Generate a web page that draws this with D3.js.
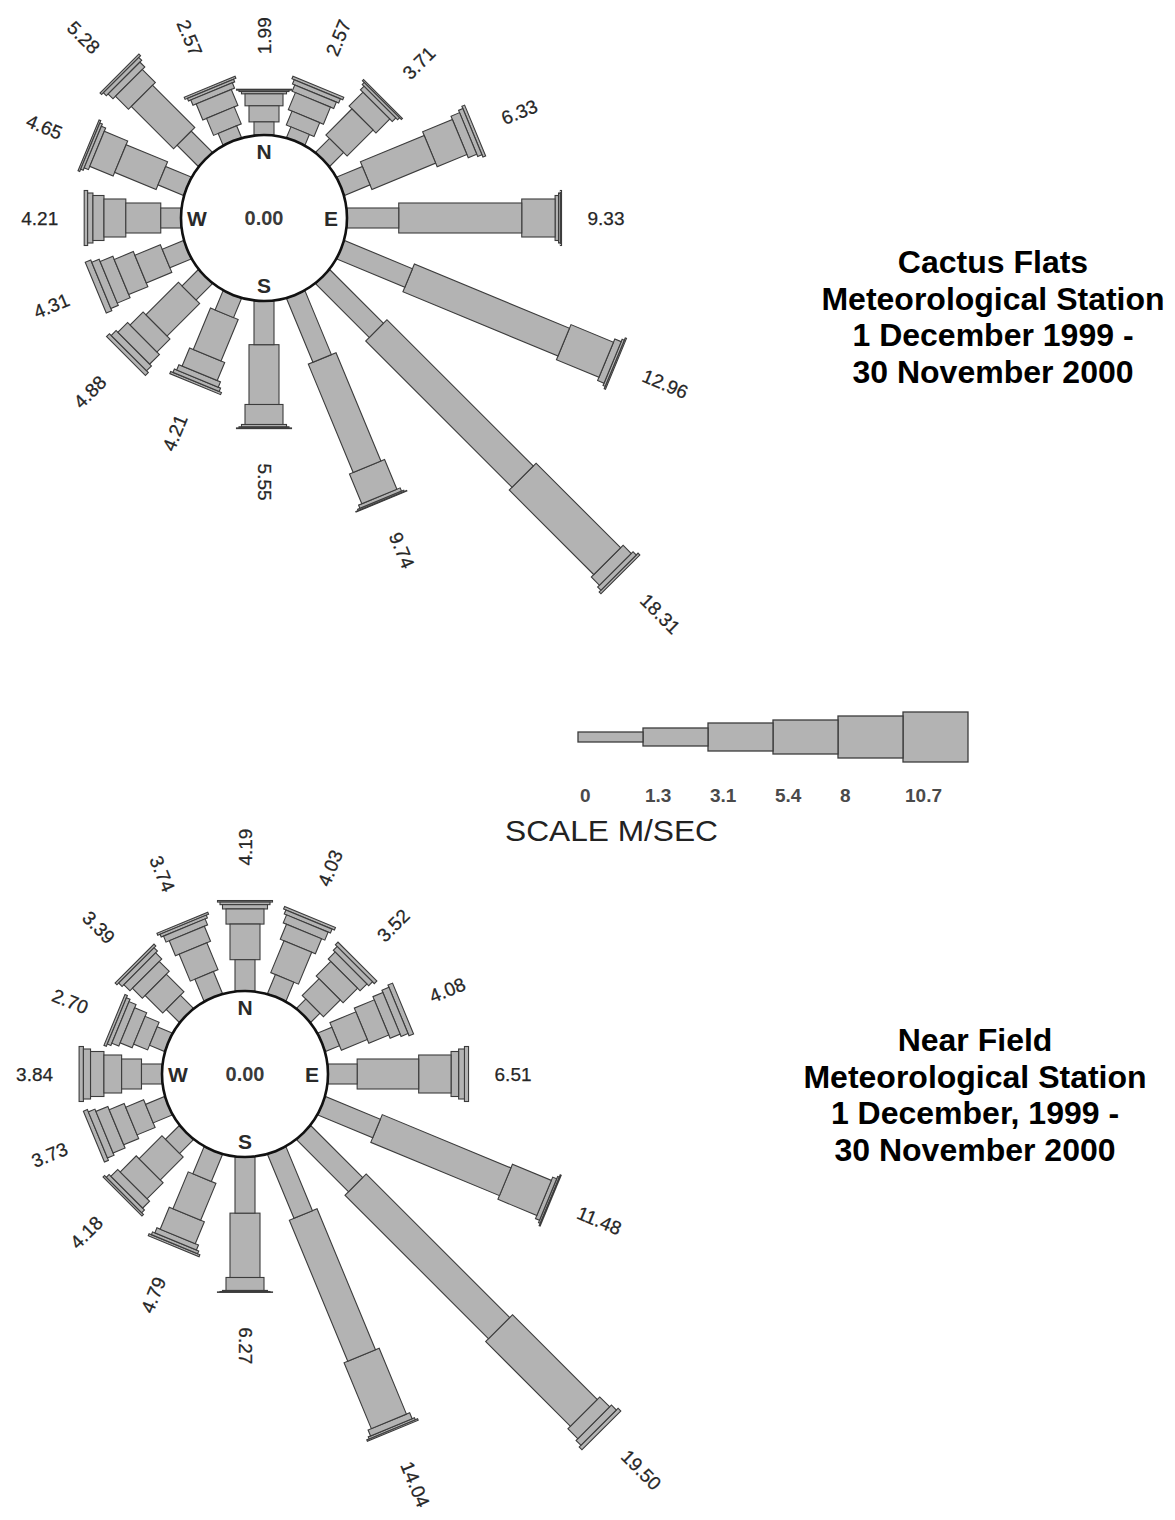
<!DOCTYPE html>
<html>
<head>
<meta charset="utf-8">
<script src="https://cdn.jsdelivr.net/npm/d3@7"></script>
<style>
  html, body { margin: 0; padding: 0; background: #ffffff; }
  svg { display: block; }
</style>
</head>
<body>
<svg id="chart" width="1175" height="1520"></svg>
<script>
// Sixteen compass points, clockwise from north
const directions = ["N","NNE","NE","ENE","E","ESE","SE","SSE","S","SSW","SW","WSW","W","WNW","NW","NNW"];
// Lower bound of each wind speed class, m/s
const speedBreaks = ["0","1.3","3.1","5.4","8","10.7"];

// Cactus Flats: percent of hours per direction, one array per speed class
const cactusC1 = [0.57,0.50,0.85,1.20,2.25,3.20,3.30,3.00,1.90,0.90,1.00,1.00,0.88,1.20,1.30,0.55];
const cactusC2 = [0.70,0.65,1.60,3.00,5.35,7.30,9.00,5.10,2.60,1.95,2.00,1.20,1.52,1.95,2.60,0.80];
const cactusC3 = [0.52,0.80,0.85,1.40,1.45,2.00,5.20,1.40,0.87,0.85,0.80,0.90,0.95,1.10,0.80,0.75];
const cactusC4 = [0.10,0.30,0.22,0.40,0.15,0.30,0.50,0.15,0.10,0.25,0.60,0.60,0.48,0.20,0.30,0.25];
const cactusC5 = [0.06,0.20,0.12,0.20,0.08,0.10,0.20,0.06,0.05,0.16,0.30,0.35,0.23,0.12,0.18,0.12];
const cactusC6 = [0.04,0.12,0.07,0.13,0.05,0.06,0.11,0.03,0.03,0.10,0.18,0.26,0.15,0.08,0.10,0.10];
const cactusCalm = 0.00;

// Near Field: percent of hours per direction, one array per speed class
const nearC1 = [1.45,0.95,0.60,0.70,1.35,2.75,3.40,3.20,2.60,1.35,0.90,0.95,0.95,0.75,0.85,1.10];
const nearC2 = [1.65,1.60,1.10,1.30,2.85,6.45,9.40,7.07,2.98,1.85,1.50,0.90,0.92,0.70,1.15,1.35];
const nearC3 = [0.70,0.75,0.95,1.00,1.50,1.95,5.55,3.30,0.60,1.10,1.05,0.75,0.82,0.60,0.65,0.75];
const nearC4 = [0.20,0.40,0.45,0.50,0.35,0.20,0.65,0.30,0.05,0.25,0.45,0.60,0.62,0.35,0.40,0.30];
const nearC5 = [0.12,0.20,0.25,0.35,0.27,0.08,0.32,0.10,0.02,0.14,0.18,0.33,0.33,0.18,0.22,0.14];
const nearC6 = [0.07,0.13,0.17,0.23,0.19,0.05,0.18,0.07,0.02,0.10,0.10,0.20,0.20,0.12,0.12,0.10];
const nearCalm = 0.00;

const cactusTitle = ["Cactus Flats", "Meteorological Station", "1 December 1999 -", "30 November 2000"];
const nearTitle = ["Near Field", "Meteorological Station", "1 December, 1999 -", "30 November 2000"];
const scaleTitle = "SCALE M/SEC";

const FONT = "'Liberation Sans', Arial, Helvetica, sans-serif";
const svg = d3.select("#chart");

// bar thickness for each speed class
const widthScale = d3.scaleOrdinal().domain(speedBreaks).range([20, 30, 38, 45, 50, 55]);
// compass bearing of each direction
const bearingScale = d3.scalePoint().domain(directions).range([0, 360 - 22.5]);

function drawRose(cx, cy, classes, calm) {
  const radius = 83;
  const g = svg.append("g").attr("transform", `translate(${cx},${cy})`);

  const arms = directions.map((dir, i) => {
    let acc = 0;
    const segs = classes.map((arr, j) => {
      const s = { cls: speedBreaks[j], start: acc, value: arr[i] };
      acc += arr[i];
      return s;
    });
    return { dir, bearing: bearingScale(dir), segs, total: acc };
  });

  // each rose is scaled so that its longest arm has the same length
  const lengthScale = d3.scaleLinear()
    .domain([0, d3.max(arms, d => d.total)])
    .range([0, 421]);

  const arm = g.selectAll("g.arm").data(arms).join("g")
    .attr("class", "arm")
    .attr("transform", d => `rotate(${d.bearing})`);

  // outermost classes first so the inner bars sit over their joins
  arm.selectAll("rect").data(d => d.segs.slice().reverse()).join("rect")
    .attr("x", s => -widthScale(s.cls) / 2)
    .attr("width", s => widthScale(s.cls))
    .attr("y", s => -(radius + lengthScale(s.start + s.value)))
    .attr("height", s => lengthScale(s.value))
    .attr("fill", "#b3b3b3")
    .attr("stroke", "#3c3c3c")
    .attr("stroke-width", 1.1);

  // totals beyond the end of each arm, reading away from the centre on the
  // east side and towards it on the west side; a little more clearance for
  // the upright labels near north and south
  g.selectAll("text.total").data(arms).join("text")
    .attr("class", "total")
    .attr("transform", d => {
      const rad = d.bearing * Math.PI / 180;
      const gap = 26 + 9 * Math.abs(Math.cos(rad));
      const dist = radius + lengthScale(d.total) + gap;
      const x = dist * Math.sin(rad), y = -dist * Math.cos(rad);
      const rot = d.bearing <= 180 ? d.bearing - 90 : d.bearing - 270;
      return `translate(${x},${y}) rotate(${rot})`;
    })
    .attr("text-anchor", d => d.bearing <= 180 ? "start" : "end")
    .attr("dominant-baseline", "central")
    .attr("font-family", FONT)
    .attr("font-size", 19)
    .attr("fill", "#262626")
    .attr("stroke", "#262626")
    .attr("stroke-width", 0.25)
    .text(d => d.total.toFixed(2));

  // centre circle
  g.append("circle")
    .attr("r", radius)
    .attr("fill", "#ffffff")
    .attr("stroke", "#111")
    .attr("stroke-width", 2.6);

  const inset = 67;
  const cardinal = [["N", 0, -inset], ["S", 0, inset], ["E", inset, 0], ["W", -inset, 0]];
  g.selectAll("text.card").data(cardinal).join("text")
    .attr("class", "card")
    .attr("x", d => d[1]).attr("y", d => d[2])
    .attr("text-anchor", "middle")
    .attr("dominant-baseline", "central")
    .attr("font-family", FONT)
    .attr("font-weight", "bold")
    .attr("font-size", 21)
    .attr("fill", "#2a2a2a")
    .text(d => d[0]);

  g.append("text")
    .attr("text-anchor", "middle")
    .attr("dominant-baseline", "central")
    .attr("font-family", FONT)
    .attr("font-weight", "bold")
    .attr("font-size", 20)
    .attr("fill", "#3a3a3a")
    .text(calm.toFixed(2));
}

drawRose(264, 218, [cactusC1, cactusC2, cactusC3, cactusC4, cactusC5, cactusC6], cactusCalm);
drawRose(245, 1074, [nearC1, nearC2, nearC3, nearC4, nearC5, nearC6], nearCalm);

// station titles
function drawTitle(lines, cx, y0) {
  svg.append("g").selectAll("text").data(lines).join("text")
    .attr("x", cx)
    .attr("y", (d, i) => y0 + i * 36.6)
    .attr("text-anchor", "middle")
    .attr("font-family", FONT)
    .attr("font-weight", "bold")
    .attr("font-size", 32)
    .attr("fill", "#000")
    .text(d => d);
}
drawTitle(cactusTitle, 993, 273);
drawTitle(nearTitle, 975, 1051);

// speed class scale bar
const legendX = d3.scaleBand().domain(speedBreaks).range([578, 968]).paddingInner(0);
const legendH = d3.scaleOrdinal().domain(speedBreaks).range([10, 18, 28, 34, 42, 50]);
const legendY = 737;
const lg = svg.append("g");
lg.selectAll("rect").data(speedBreaks.slice().reverse()).join("rect")
  .attr("x", d => legendX(d))
  .attr("width", legendX.bandwidth())
  .attr("y", d => legendY - legendH(d) / 2)
  .attr("height", d => legendH(d))
  .attr("fill", "#b3b3b3")
  .attr("stroke", "#3c3c3c")
  .attr("stroke-width", 1.3);
lg.selectAll("text").data(speedBreaks).join("text")
  .attr("x", d => legendX(d) + 2)
  .attr("y", 802)
  .attr("font-family", FONT)
  .attr("font-weight", "bold")
  .attr("font-size", 19)
  .attr("fill", "#4a4a4a")
  .text(d => d);
lg.append("text")
  .attr("x", 505).attr("y", 841)
  .attr("font-family", FONT)
  .attr("font-size", 30)
  .attr("textLength", 213)
  .attr("lengthAdjust", "spacingAndGlyphs")
  .attr("fill", "#222")
  .text(scaleTitle);
</script>
</body>
</html>
